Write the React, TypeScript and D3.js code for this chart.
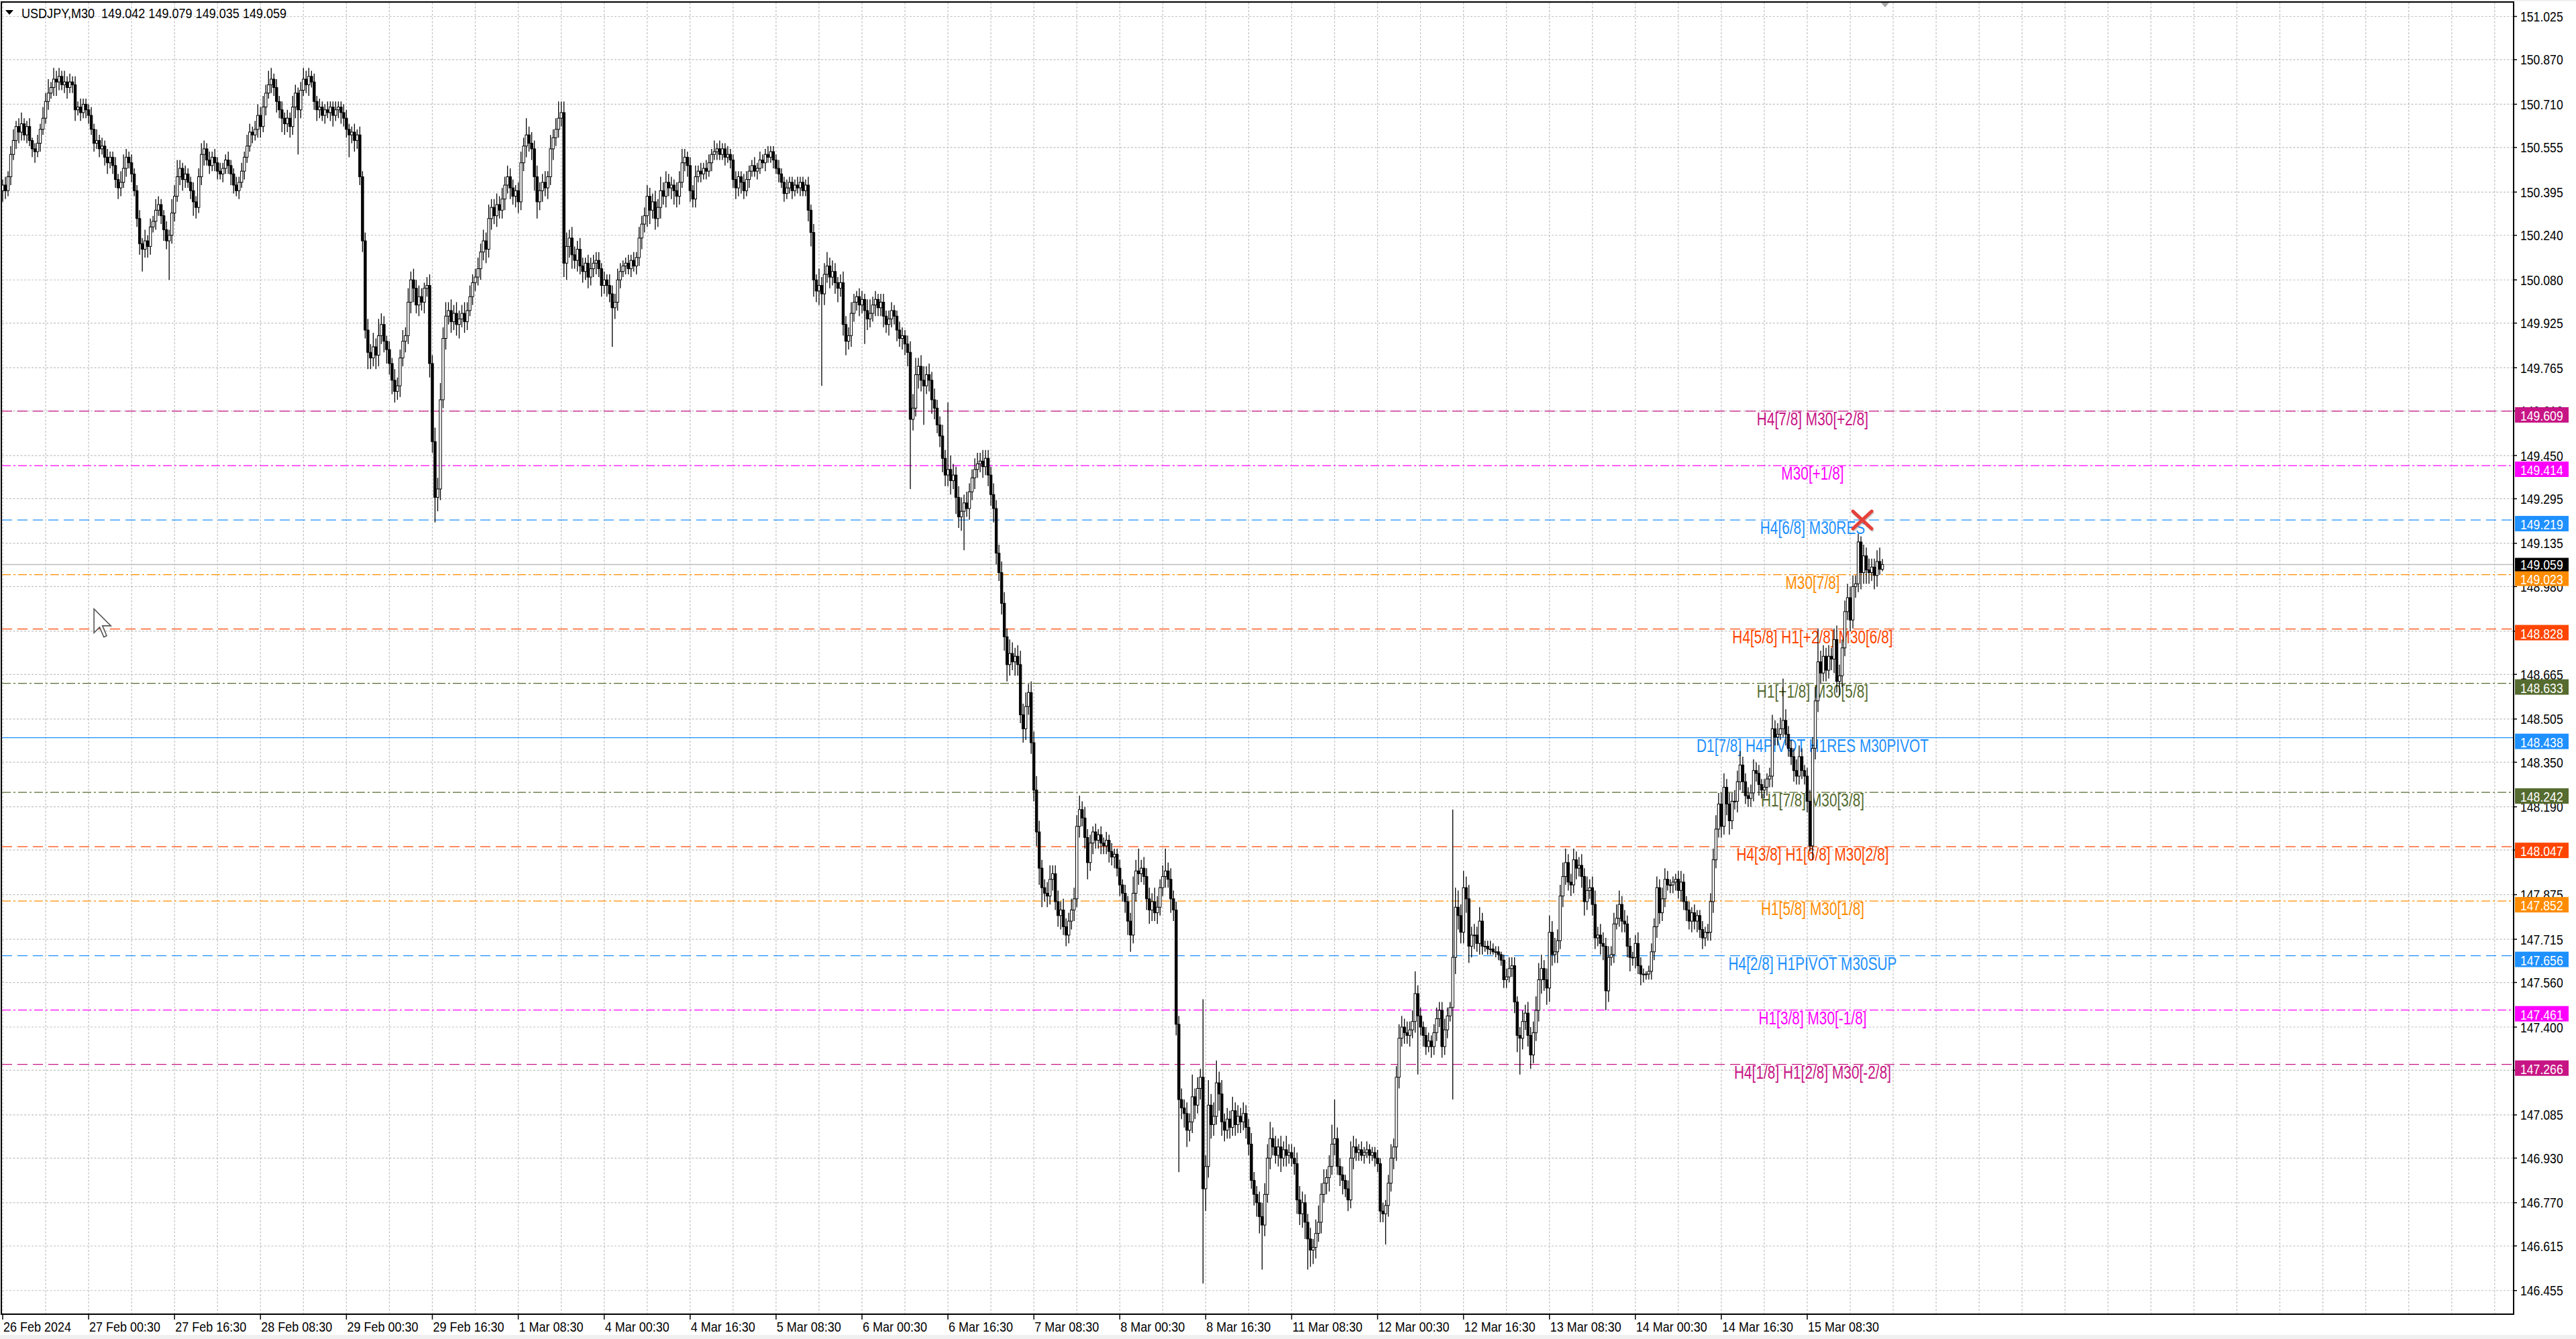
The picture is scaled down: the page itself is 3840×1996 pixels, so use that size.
import * as d3 from "d3";

const W = 3840;
const H = 1996;
const FONT = "'Liberation Sans', Arial, sans-serif";

// USDJPY M30 closes, one per bar, 26 Feb 08:30 -> 15 Mar 22:30 (16 bars per row)
const closes = [
  150.42,150.40,150.45,150.53,150.58,150.63,150.61,150.64,150.60,150.63,150.58,150.55,150.54,150.57,150.62,150.66,
  150.72,150.75,150.77,150.80,150.79,150.81,150.78,150.79,150.77,150.79,150.78,150.69,150.70,150.68,150.71,150.69,
  150.67,150.62,150.57,150.58,150.55,150.56,150.52,150.50,150.52,150.49,150.44,150.41,150.43,150.48,150.52,150.50,
  150.46,150.40,150.30,150.21,150.19,150.22,150.20,150.27,150.29,150.33,150.35,150.31,150.26,150.22,150.24,150.32,
  150.38,150.45,150.48,150.44,150.46,150.43,150.40,150.36,150.34,150.45,150.53,150.55,150.51,150.49,150.52,150.50,
  150.47,150.46,150.48,150.51,150.49,150.46,150.42,150.40,150.43,150.47,150.52,150.56,150.61,150.60,150.62,150.67,
  150.63,150.70,150.75,150.78,150.80,150.77,150.72,150.69,150.66,150.64,150.66,150.63,150.70,150.75,150.69,150.76,
  150.80,150.78,150.81,150.79,150.72,150.69,150.70,150.67,150.69,150.68,150.70,150.67,150.69,150.70,150.68,150.66,
  150.62,150.60,150.61,150.58,150.60,150.45,150.22,149.90,149.82,149.80,149.84,149.81,149.88,149.92,149.86,149.83,
  149.78,149.72,149.68,149.70,149.80,149.86,149.88,150.00,150.08,150.05,149.99,150.02,150.00,150.05,150.06,149.78,
  149.50,149.30,149.33,149.65,149.87,149.95,149.97,149.93,149.96,149.92,149.94,149.96,149.93,149.97,150.02,150.07,
  150.09,150.12,150.18,150.22,150.19,150.30,150.34,150.31,150.35,150.33,150.37,150.42,150.45,150.41,150.38,150.40,
  150.36,150.50,150.56,150.60,150.57,150.55,150.45,150.36,150.40,150.43,150.41,150.45,150.55,150.59,150.62,150.66,
  150.68,150.14,150.20,150.23,150.17,150.15,150.19,150.13,150.11,150.14,150.09,150.12,150.14,150.15,150.12,150.06,
  150.08,150.06,150.03,149.98,150.00,150.08,150.11,150.13,150.14,150.12,150.15,150.13,150.16,150.23,150.28,150.31,
  150.38,150.33,150.36,150.30,150.34,150.40,150.38,150.43,150.41,150.42,150.40,150.38,150.43,150.50,150.52,150.49,
  150.40,150.37,150.45,150.47,150.46,150.48,150.47,150.50,150.53,150.54,150.55,150.53,150.55,150.52,150.53,150.51,
  150.44,150.41,150.45,150.43,150.40,150.44,150.47,150.49,150.47,150.48,150.51,150.50,150.53,150.52,150.54,150.51,
  150.48,150.46,150.43,150.39,150.41,150.43,150.40,150.42,150.41,150.43,150.40,150.42,150.33,150.25,150.08,150.04,
  150.06,150.03,150.10,150.13,150.09,150.11,150.07,150.05,150.07,149.92,149.86,149.88,149.96,150.00,150.02,149.99,
  150.01,149.97,149.94,149.96,149.99,150.01,149.98,150.00,149.95,149.92,149.94,149.97,149.95,149.90,149.87,149.88,
  149.85,149.82,149.58,149.62,149.74,149.77,149.72,149.70,149.74,149.72,149.65,149.62,149.56,149.52,149.44,149.38,
  149.40,149.36,149.38,149.30,149.23,149.25,149.28,149.26,149.32,149.37,149.40,149.42,149.43,149.41,149.44,149.38,
  149.31,149.26,149.10,149.03,148.92,148.80,148.70,148.74,148.71,148.73,148.70,148.52,148.47,148.55,148.60,148.42,
  148.25,148.10,147.97,147.90,147.88,147.87,147.93,147.95,147.85,147.80,147.82,147.76,147.73,147.78,147.82,147.86,
  148.12,148.18,148.15,148.08,147.99,148.06,148.10,148.07,148.09,148.06,148.05,148.07,148.03,148.01,148.02,147.97,
  147.91,147.88,147.85,147.78,147.73,147.88,147.96,147.95,147.97,147.94,147.86,147.82,147.85,147.81,147.83,147.90,
  147.94,147.96,147.93,147.86,147.82,147.41,147.14,147.11,147.09,147.03,147.06,147.15,147.12,147.18,147.22,146.82,
  146.90,147.12,147.05,147.08,147.20,147.16,147.06,147.03,147.07,147.04,147.10,147.05,147.08,147.06,147.09,147.04,
  146.98,146.85,146.80,146.77,146.72,146.69,146.80,146.93,147.00,146.97,146.94,146.97,146.93,146.96,146.94,146.95,
  146.93,146.91,146.78,146.73,146.77,146.70,146.64,146.60,146.61,146.66,146.70,146.80,146.84,146.86,146.90,146.98,
  147.00,146.90,146.87,146.85,146.82,146.78,146.93,146.97,146.95,146.96,146.94,146.95,146.96,146.94,146.95,146.93,
  146.91,146.74,146.73,146.76,146.84,146.93,146.97,147.22,147.36,147.40,147.38,147.37,147.39,147.42,147.52,147.44,
  147.40,147.37,147.33,147.35,147.33,147.38,147.43,147.46,147.33,147.39,147.44,147.47,147.65,147.83,147.80,147.74,
  147.90,147.86,147.69,147.73,147.73,147.70,147.78,147.69,147.69,147.68,147.68,147.67,147.67,147.66,147.64,147.57,
  147.58,147.61,147.62,147.49,147.37,147.36,147.42,147.45,147.37,147.30,147.38,147.46,147.57,147.61,147.57,147.54,
  147.74,147.66,147.67,147.71,147.87,147.94,147.99,147.92,147.91,148.00,147.97,147.98,147.94,147.85,147.89,147.90,
  147.84,147.72,147.73,147.70,147.69,147.53,147.65,147.66,147.77,147.79,147.84,147.78,147.77,147.69,147.65,147.65,
  147.70,147.62,147.59,147.59,147.59,147.60,147.67,147.76,147.90,147.81,147.86,147.93,147.91,147.91,147.92,147.93,
  147.89,147.92,147.85,147.82,147.78,147.81,147.78,147.80,147.75,147.72,147.74,147.74,147.85,148.00,148.11,148.20,
  148.12,148.26,148.20,148.14,148.21,148.21,148.28,148.34,148.28,148.23,148.22,148.24,148.32,148.31,148.27,148.25,
  148.26,148.29,148.30,148.47,148.44,148.45,148.47,148.50,148.45,148.40,148.37,148.32,148.30,148.37,148.32,148.30,
  148.21,148.05,148.40,148.57,148.71,148.67,148.73,148.68,148.73,148.72,148.79,148.64,148.66,148.76,148.89,148.94,
  148.86,148.98,148.99,149.14,149.03,149.09,149.04,149.03,149.05,149.02,149.07,149.042,149.059,
];

// upper / lower shadow length beyond the body, in 0.01 yen
const wickHigh = [
  2,3,2,3,4,2,3,4,2,2,3,1,2,3,2,4, 3,5,2,4,3,3,2,4,2,3,2,3,2,3,2,2,
  2,3,2,4,2,3,2,3,2,2,3,2,4,5,3,2, 3,2,2,3,2,4,2,3,2,4,3,2,2,3,2,5,
  4,6,3,2,3,2,2,3,2,3,4,3,2,3,2,3, 2,3,2,2,3,2,2,3,2,3,2,4,3,2,3,4,
  3,4,3,5,4,2,3,2,3,2,3,2,4,3,2,3, 4,3,3,2,3,2,3,2,2,3,2,2,3,2,2,3,
  3,2,2,3,2,3,2,3,4,3,5,3,6,4,3,2, 3,2,4,3,3,4,3,5,3,4,3,4,3,2,3,4,
  3,5,4,6,4,5,3,4,3,4,3,3,4,3,4,3, 3,4,3,4,3,5,3,3,4,3,4,3,4,3,3,2,
  3,4,3,6,3,4,3,4,3,3,4,2,5,3,4,6, 4,4,5,3,4,3,3,4,3,2,3,4,3,3,3,2,
  3,2,4,3,3,4,3,2,2,3,2,3,2,4,3,3, 4,3,3,4,3,5,3,4,3,3,2,3,4,5,3,2,
  3,2,4,2,3,2,3,3,2,4,2,3,2,2,3,2, 2,3,2,2,3,3,2,2,3,2,3,2,2,3,2,2,
  2,3,2,2,3,2,2,2,3,2,2,2,3,2,3,2, 6,3,4,5,3,4,3,2,3,4,3,3,4,3,2,3,
  3,2,4,5,3,3,2,3,3,2,3,3,2,2,3,3, 2,3,4,5,6,3,4,5,3,4,3,4,3,3,4,3,
  24,5,4,3,4,5,3,4,3,3,4,4,3,4,3,3, 3,4,3,3,4,4,3,5,4,3,4,5,4,5,3,4,
  4,5,4,3,3,4,5,3,3,4,3,4,3,3,4,4, 4,5,3,4,3,3,2,3,2,3,2,3,2,3,2,2,
  3,2,3,2,3,6,4,8,3,4,3,4,3,5,4,3, 4,8,3,4,3,3,3,4,3,4,3,8,3,4,3,28,
  4,9,4,5,8,4,5,3,4,3,5,3,4,3,4,3, 3,4,3,3,4,5,4,5,6,4,4,3,4,3,5,3,
  3,4,4,5,4,3,3,4,3,5,6,4,5,3,4,7, 14,4,3,3,2,3,6,4,3,2,3,2,3,2,2,2,
  3,2,3,2,3,5,3,4,5,4,3,4,3,4,8,3, 3,2,3,3,2,3,4,3,3,4,3,2,53,7,6,4,
  6,4,5,3,4,3,5,3,2,2,3,2,2,2,1,2, 3,4,3,3,2,3,4,3,4,3,4,5,6,5,3,4,
  6,4,5,4,4,5,5,3,3,4,3,3,4,3,5,3, 4,5,3,4,4,3,4,3,4,5,5,3,4,3,3,2,
  3,4,3,2,1,2,3,3,4,3,4,4,3,2,2,2, 3,4,3,2,3,2,3,2,2,3,2,3,3,4,5,4,
  4,5,3,4,3,4,4,5,3,3,3,3,4,3,3,2, 3,2,3,5,3,4,4,15,4,3,3,3,4,4,3,2,
  3,4,4,5,12,4,4,3,4,3,4,5,4,3,4,5, 4,4,3,3,2,4,3,4,3,3,4,5,2,
];
const wickLow = [
  4,3,2,3,2,3,4,3,2,3,2,3,4,2,3,2, 2,3,2,3,5,3,2,3,4,2,3,4,2,3,2,3,
  3,2,3,2,3,2,3,4,2,3,3,4,3,2,3,2, 3,2,3,4,8,3,4,3,2,3,2,3,4,3,14,3,
  3,2,3,4,3,2,3,5,4,2,3,4,2,3,2,3, 3,2,3,2,3,4,3,2,3,2,3,2,2,3,2,3,
  4,2,3,2,3,3,4,3,5,4,3,4,3,4,16,3, 2,3,4,2,3,4,3,2,3,2,3,4,2,3,4,3,
  3,8,3,4,3,3,4,3,6,4,3,5,4,3,4,5, 4,5,4,3,4,3,4,3,4,5,3,4,3,4,3,5,
  4,9,5,4,3,4,3,4,3,4,5,3,4,3,2,3, 3,3,4,3,5,3,4,3,4,3,3,4,3,4,3,4,
  4,3,3,4,3,4,5,6,3,4,3,4,3,4,3,3, 3,5,6,4,5,3,4,3,4,3,4,3,3,4,3,4,
  3,4,3,14,4,3,3,2,3,2,3,2,3,3,4,3, 4,5,3,4,3,4,3,4,3,4,5,4,3,2,3,4,
  4,3,3,2,3,2,3,2,3,2,3,2,2,3,2,3, 3,4,3,4,3,2,3,2,2,3,2,2,3,2,2,3,
  2,3,2,3,2,2,3,2,2,3,2,2,4,5,6,4, 5,33,4,3,4,3,4,5,3,4,5,3,4,3,3,4,
  3,12,4,3,3,4,3,3,4,3,4,3,3,4,3,4, 4,5,25,4,3,5,4,14,3,4,5,4,3,4,5,4,
  4,5,3,6,4,5,14,3,4,3,4,3,3,4,3,4, 4,5,4,3,4,5,6,4,3,5,4,3,5,4,3,4,
  4,5,6,7,3,4,3,4,3,4,5,3,4,3,3,4, 3,4,3,4,6,3,4,3,3,4,3,3,4,3,4,3,
  4,3,4,5,6,3,3,4,3,3,4,5,4,3,4,3, 3,4,3,5,4,4,26,4,5,6,4,4,5,3,4,34,
  8,4,5,4,3,6,5,4,3,4,3,4,3,4,3,4, 4,3,4,5,6,16,4,3,4,3,3,4,5,3,4,3,
  3,4,5,4,5,6,11,6,5,4,3,4,3,4,5,3, 4,3,4,5,3,4,3,4,3,3,2,3,2,3,2,3,
  3,4,3,11,4,3,4,5,4,3,4,3,4,3,4,21, 3,4,3,2,4,3,3,3,4,3,3,2,33,6,5,4,
  4,5,6,4,5,3,4,3,2,2,2,1,2,2,2,3, 3,2,3,4,6,13,4,3,4,5,3,3,4,5,4,6,
  5,4,3,4,3,4,3,3,4,3,4,3,4,5,3,3, 4,4,3,4,5,7,4,3,3,2,3,4,3,4,5,3,
  4,3,4,3,2,2,3,3,4,4,3,3,2,3,3,3, 3,4,3,4,3,4,3,4,3,4,3,3,3,4,3,3,
  4,3,4,5,3,3,4,3,4,3,3,3,3,3,4,3, 3,3,3,4,3,3,2,3,4,3,3,4,3,3,3,3,
  4,2,5,4,4,4,3,4,3,4,5,4,5,4,3,3, 4,3,4,3,6,4,5,4,3,5,4,2,1,
];

// last bar O H L C shown in the header
const lastOHLC = [149.042, 149.079, 149.035, 149.059];

// one label every 32 bars
const timeLabels = [
  "26 Feb 2024", "27 Feb 00:30", "27 Feb 16:30", "28 Feb 08:30", "29 Feb 00:30", "29 Feb 16:30",
  "1 Mar 08:30", "4 Mar 00:30", "4 Mar 16:30", "5 Mar 08:30", "6 Mar 00:30", "6 Mar 16:30",
  "7 Mar 08:30", "8 Mar 00:30", "8 Mar 16:30", "11 Mar 08:30", "12 Mar 00:30", "12 Mar 16:30",
  "13 Mar 08:30", "14 Mar 00:30", "14 Mar 16:30", "15 Mar 08:30",
];

const priceTicks = [
  151.025, 150.870, 150.710, 150.555, 150.395, 150.240, 150.080, 149.925, 149.765, 149.610,
  149.450, 149.295, 149.135, 148.980, 148.820, 148.665, 148.505, 148.350, 148.190, 148.035,
  147.875, 147.715, 147.560, 147.400, 147.245, 147.085, 146.930, 146.770, 146.615, 146.455,
];

// Murrey-math style levels
const levelPrices = [149.609, 149.414, 149.219, 149.023, 148.828, 148.633, 148.438, 148.242, 148.047, 147.852, 147.656, 147.461, 147.266];
const levelNames = [
  "H4[7/8] M30[+2/8]", "M30[+1/8]", "H4[6/8] M30RES", "M30[7/8]", "H4[5/8] H1[+2/8] M30[6/8]",
  "H1[+1/8] M30[5/8]", "D1[7/8] H4PIVOT H1RES M30PIVOT", "H1[7/8] M30[3/8]", "H4[3/8] H1[6/8] M30[2/8]",
  "H1[5/8] M30[1/8]", "H4[2/8] H1PIVOT M30SUP", "H1[3/8] M30[-1/8]", "H4[1/8] H1[2/8] M30[-2/8]",
];
const levelColors = ["#C71585", "#FF00FF", "#1E90FF", "#FF8C00", "#FF4500", "#556B2F", "#1E90FF", "#556B2F", "#FF4500", "#FF8C00", "#1E90FF", "#FF00FF", "#C71585"];
const levelStyles = ["dash", "dashdot", "dash", "dashdot", "dash", "dashdot", "solid", "dashdot", "dash", "dashdot", "dash", "dashdot", "dash"];

// red cross marker and mouse pointer, in bar / price units
const crossMark = { bar: 692.5, price: 149.219 };
const pointer = { bar: 34, price: 148.9 };

const DASH: Record<string, string | undefined> = { dash: "15,8", dashdot: "13,4,3,4", solid: undefined };

function Txt(props: { x: number; y: number; size: number; sx: number; fill: string; anchor?: string; children: any }) {
  const { x, y, size, sx, fill, anchor = "start", children } = props;
  return (
    <text
      transform={`translate(${x},${y}) scale(${sx},1)`}
      fontSize={size}
      fontFamily={FONT}
      fill={fill}
      textAnchor={anchor}
      style={{ whiteSpace: "pre" }}
    >
      {children}
    </text>
  );
}

export default function App() {
  const plotL = 3, plotT = 4, axisX = 3747, axisY = 1959;
  const n = closes.length;

  const x = d3.scaleLinear().domain([0, 700]).range([4, 4 + 4.003 * 700]);
  const y = d3.scaleLinear().domain([146.3702, 151.0743]).range([axisY, plotT]);

  const candles = closes.map((c, i) => {
    const o = i === 0 ? 150.40 : closes[i - 1];
    const h = Math.max(o, c) + (wickHigh[i] ?? 2) / 100;
    const l = Math.min(o, c) - (wickLow[i] ?? 2) / 100;
    if (i === n - 1) {
      return { i, o: lastOHLC[0], h: lastOHLC[1], l: lastOHLC[2], c: lastOHLC[3] };
    }
    return { i, o, c, h, l };
  });

  const gridBars = d3.range(0, 930, 16).filter((b) => x(b) < axisX - 2);
  const lastY = y(lastOHLC[3]);
  const cx = x(crossMark.bar), cy = y(crossMark.price);
  const px = x(pointer.bar), py = y(pointer.price);
  const arrow = [[0, 0], [0, 17], [4, 13], [7, 20], [9, 19], [6, 12], [12, 12]]
    .map(([a, b]) => `${px + a * 2.1},${py + b * 2.1}`)
    .join(" ");

  return (
    <>
      <style>{"body{margin:0;}"}</style>
      <svg width={W} height={H} viewBox={`0 0 ${W} ${H}`} style={{ display: "block" }}>
        <rect x={0} y={0} width={W} height={H} fill="#f0f0f0" />
        <rect x={0} y={2} width={W} height={H - 8} fill="#ffffff" />

        {/* grid */}
        <g stroke="#c0c0c0" strokeWidth={1.2} strokeDasharray="3,2.5">
          {gridBars.map((b) => (
            <line key={"gx" + b} x1={x(b)} x2={x(b)} y1={plotT} y2={axisY} />
          ))}
          {priceTicks.map((p) => (
            <line key={"gy" + p} x1={plotL} x2={axisX} y1={y(p)} y2={y(p)} />
          ))}
        </g>

        {/* level lines */}
        {levelPrices.map((p, k) => (
          <line
            key={"lv" + k}
            x1={plotL}
            x2={axisX}
            y1={y(p)}
            y2={y(p)}
            stroke={levelColors[k]}
            strokeWidth={1.25}
            strokeDasharray={DASH[levelStyles[k]]}
          />
        ))}

        {/* bid line */}
        <line x1={plotL} x2={axisX} y1={lastY} y2={lastY} stroke="#bdbdbd" strokeWidth={1.4} />

        {/* level captions */}
        {levelPrices.map((p, k) => (
          <Txt key={"lt" + k} x={2702} y={y(p) + 21} size={28} sx={0.745} fill={levelColors[k]} anchor="middle">
            {levelNames[k]}
          </Txt>
        ))}

        {/* candles */}
        <g>
          {candles.map((d) => {
            const xc = x(d.i);
            const yTop = y(Math.max(d.o, d.c));
            const yBot = y(Math.min(d.o, d.c));
            const bull = d.c >= d.o;
            return (
              <g key={d.i}>
                <line x1={xc} x2={xc} y1={y(d.h)} y2={y(d.l)} stroke="#000" strokeWidth={1.3} />
                <rect
                  x={xc - 1.7}
                  y={yTop}
                  width={3.4}
                  height={Math.max(1, yBot - yTop)}
                  fill={bull ? "#ffffff" : "#000000"}
                  stroke="#000"
                  strokeWidth={1}
                />
              </g>
            );
          })}
        </g>

        {/* red cross */}
        <g strokeLinecap="round">
          <g stroke="#9a9a9a" strokeWidth={5} opacity={0.5}>
            <line x1={cx - 13} y1={cy - 11} x2={cx + 15} y2={cy + 15} />
            <line x1={cx - 13} y1={cy + 15} x2={cx + 15} y2={cy - 11} />
          </g>
          <g stroke="#e5413b" strokeWidth={5}>
            <line x1={cx - 14} y1={cy - 13} x2={cx + 14} y2={cy + 13} />
            <line x1={cx - 14} y1={cy + 13} x2={cx + 14} y2={cy - 13} />
          </g>
        </g>

        {/* mouse pointer */}
        <polygon points={arrow} fill="#ffffff" stroke="#555" strokeWidth={1.6} />

        {/* chart shift marker */}
        <polygon
          points={`${x(701) - 6},${plotT} ${x(701) + 6},${plotT} ${x(701)},${plotT + 7}`}
          fill="#a8a8a8"
        />

        {/* frame and axes */}
        <rect x={plotL - 1} y={plotT - 1} width={axisX - plotL + 1} height={axisY - plotT + 1} fill="none" stroke="#000" strokeWidth={2} />

        {/* price axis */}
        {priceTicks.map((p) => (
          <g key={"pt" + p}>
            <line x1={axisX} x2={axisX + 5} y1={y(p)} y2={y(p)} stroke="#000" strokeWidth={1.5} />
            <Txt x={3757} y={y(p) + 7.5} size={21} sx={0.84} fill="#000">
              {p.toFixed(3)}
            </Txt>
          </g>
        ))}

        {/* level price boxes */}
        {levelPrices.map((p, k) => (
          <g key={"lb" + k}>
            <rect x={3749} y={y(p) - 6} width={80} height={23} fill={levelColors[k]} />
            <Txt x={3757} y={y(p) + 14} size={21} sx={0.84} fill="#ffffff">
              {p.toFixed(3)}
            </Txt>
          </g>
        ))}
        <rect x={3749} y={lastY - 10} width={80} height={20} fill="#000" />
        <Txt x={3757} y={lastY + 7.5} size={21} sx={0.84} fill="#ffffff">
          {lastOHLC[3].toFixed(3)}
        </Txt>

        {/* time axis */}
        {timeLabels.map((t, k) => (
          <g key={"tl" + k}>
            <line x1={x(k * 32)} x2={x(k * 32)} y1={axisY} y2={axisY + 8} stroke="#000" strokeWidth={1.5} />
            <Txt x={x(k * 32) + 1} y={1985} size={20} sx={0.9} fill="#000">
              {t}
            </Txt>
          </g>
        ))}

        {/* header */}
        <polygon points="8,15 20,15 14,22" fill="#000" />
        <Txt x={32} y={27} size={21} sx={0.86} fill="#000">
          {`USDJPY,M30  ${lastOHLC.map((v) => v.toFixed(3)).join(" ")}`}
        </Txt>
      </svg>
    </>
  );
}
